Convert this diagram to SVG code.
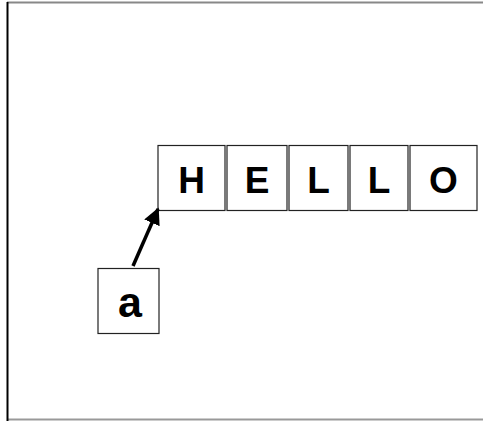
<svg xmlns="http://www.w3.org/2000/svg" width="483" height="421" viewBox="0 0 483 421">
<style>
.box{fill:#fff;stroke:#222;stroke-width:1.2}
.lbl{font-family:"Liberation Sans",Arial,sans-serif;font-weight:bold;font-size:37px;fill:#000;text-anchor:middle}
.conn{stroke:#000;stroke-width:3.5;fill:none}
</style>
<defs>
<marker id="ah" viewBox="0 0 10 10" refX="9" refY="5" markerWidth="4.8" markerHeight="4.8" orient="auto" markerUnits="strokeWidth">
<path d="M0,0 L10,5 L0,10 z" fill="#000"/>
</marker>
</defs>
<rect width="483" height="421" fill="#fff"/>
<line x1="7" y1="2.5" x2="483" y2="2.5" stroke="#888" stroke-width="2"/>
<line x1="7" y1="419.5" x2="483" y2="419.5" stroke="#999" stroke-width="2"/>
<line x1="7.5" y1="2" x2="7.5" y2="421" stroke="#000" stroke-width="2"/>
<g id="node-H"><rect class="box" x="158" y="145.5" width="67" height="65"/><text class="lbl" x="191.5" y="193">H</text></g>
<g id="node-E"><rect class="box" x="227" y="145.5" width="60" height="65"/><text class="lbl" x="257" y="193">E</text></g>
<g id="node-L1"><rect class="box" x="289" y="145.5" width="59" height="65"/><text class="lbl" x="318.5" y="193">L</text></g>
<g id="node-L2"><rect class="box" x="350" y="145.5" width="58" height="65"/><text class="lbl" x="379" y="193">L</text></g>
<g id="node-O"><rect class="box" x="410" y="145.5" width="67" height="65"/><text class="lbl" x="443.5" y="193">O</text></g>
<g id="node-a"><rect class="box" x="98" y="268.5" width="61" height="65"/><text class="lbl" x="130" y="317" style="font-size:43px">a</text></g>
<g id="connectors">
<line class="conn" x1="133" y1="266" x2="158" y2="209" marker-end="url(#ah)"/>
</g>
</svg>
